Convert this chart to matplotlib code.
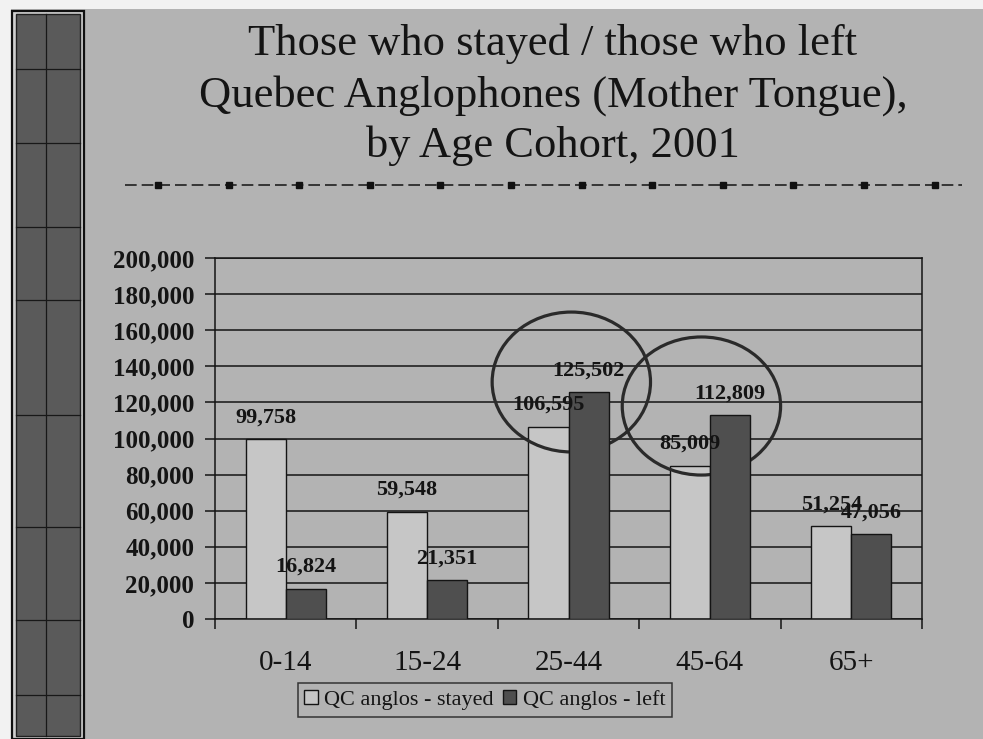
import numpy as np
import matplotlib
matplotlib.use('Agg')
import matplotlib.pyplot as plt
from matplotlib.patches import Rectangle, Ellipse, Patch
from matplotlib.lines import Line2D
from matplotlib.ticker import FuncFormatter, FixedLocator

# data
cohorts = ['0-14', '15-24', '25-44', '45-64', '65+']
stayed = [99758, 59548, 106595, 85009, 51254]
left = [16824, 21351, 125502, 112809, 47056]
series_names = ['QC anglos - stayed', 'QC anglos - left']
title_lines = ['Those who stayed / those who left',
               'Quebec Anglophones (Mother Tongue),',
               'by Age Cohort, 2001']

plt.rcParams['font.family'] = ['Liberation Serif', 'DejaVu Serif']

bg = '#b3b3b3'
light = '#c6c6c6'
dark = '#4f4f4f'
ink = '#141414'

W, H = 983, 739
fig = plt.figure(figsize=(W / 100, H / 100), dpi=100, facecolor=bg)

def fx(px):
    return px / W

def fy(py):
    return 1 - py / H

# white scan margins
fig.patches.append(Rectangle((0, fy(9)), 1, 9 / H, transform=fig.transFigure,
                             facecolor='#f2f2f2', edgecolor='none', zorder=0))
fig.patches.append(Rectangle((0, 0), fx(11), 1, transform=fig.transFigure,
                             facecolor='#f2f2f2', edgecolor='none', zorder=0))

# left decorative strip
fig.patches.append(Rectangle((fx(12), 0), fx(72), fy(11), transform=fig.transFigure,
                             facecolor='#cfcfcf', edgecolor='#101010', lw=1.6, zorder=1))
fig.patches.append(Rectangle((fx(16), fy(736)), fx(64), (736 - 14) / H,
                             transform=fig.transFigure, facecolor='#5a5a5a',
                             edgecolor='#202020', lw=1, zorder=2))
fig.lines.append(Line2D([fx(46), fx(46)], [fy(736), fy(14)], transform=fig.transFigure,
                        color='#181818', lw=0.9, zorder=3))
for yy in [69, 143, 227, 300, 415, 527, 620, 695]:
    fig.lines.append(Line2D([fx(16), fx(80)], [fy(yy), fy(yy)], transform=fig.transFigure,
                            color='#181818', lw=0.9, zorder=3))

# title
for line, base in zip(title_lines, [55, 107, 157]):
    fig.text(fx(553), fy(base), line, ha='center', va='baseline',
             fontsize=32, color=ink)

# dashed rule with square markers
fig.lines.append(Line2D([fx(125), fx(962)], [fy(185), fy(185)], transform=fig.transFigure,
                        color='#202020', lw=1.2, ls=(0, (7, 3))))
mx = [fx(158 + 70.6 * k) for k in range(12)]
fig.lines.append(Line2D(mx, [fy(185)] * len(mx), transform=fig.transFigure,
                        color='#101010', lw=0, marker='s', markersize=5))

# chart
ax = fig.add_axes([fx(215), fy(619), fx(922) - fx(215), (619 - 258) / H])
ax.set_facecolor('none')

x = np.arange(len(cohorts))
bw = 0.283
b1 = ax.bar(x - bw / 2, stayed, bw, color=light, edgecolor=ink, lw=1, zorder=2)
b2 = ax.bar(x + bw / 2, left, bw, color=dark, edgecolor=ink, lw=1, zorder=3)

for bars, vals in [(b1, stayed), (b2, left)]:
    for r, v in zip(bars, vals):
        ax.annotate(f'{v:,}', (r.get_x() + r.get_width() / 2, v),
                    xytext=(0, 12), textcoords='offset points',
                    ha='center', va='baseline', fontsize=16, fontweight='bold',
                    color=ink, zorder=5)

ax.set_xlim(-0.5, len(cohorts) - 0.5)
ax.set_ylim(0, 200000)
ax.set_yticks(np.arange(0, 200001, 20000))
ax.yaxis.set_major_formatter(FuncFormatter(lambda v, p: f'{int(v):,}'))
ax.tick_params(axis='y', length=7, width=1.1, direction='out', pad=8,
               labelsize=18, colors=ink)
for t in ax.get_yticklabels():
    t.set_fontweight('bold')

ax.set_xticks(x)
ax.set_xticklabels(cohorts)
ax.xaxis.set_minor_locator(FixedLocator(np.arange(-0.5, len(cohorts), 1)))
ax.tick_params(axis='x', which='major', length=0, pad=22, labelsize=21, colors=ink)
ax.tick_params(axis='x', which='minor', length=7, width=1.1, direction='out', colors=ink)

ax.yaxis.grid(True, color=ink, lw=1.1)
ax.set_axisbelow(True)
for s in ax.spines.values():
    s.set_color(ink)
    s.set_linewidth(1.1)

# highlight circles (drawn over the light bars, under the dark ones)
for cx, cy, w, h in [(2.02, 131300, 1.12, 77500), (2.94, 118000, 1.12, 76500)]:
    ax.add_patch(Ellipse((cx, cy), w, h, fill=False, edgecolor='#2a2a2a',
                         lw=2.3, zorder=2.5, clip_on=False))

handles = [Patch(facecolor=light, edgecolor=ink, lw=1),
           Patch(facecolor=dark, edgecolor=ink, lw=1)]
leg = fig.legend(handles, series_names, loc='center', ncol=2,
                 bbox_to_anchor=(fx(485), fy(700)), fontsize=16,
                 handlelength=0.6, handleheight=0.6, handletextpad=0.3,
                 columnspacing=0.4, borderpad=0.3, fancybox=False,
                 frameon=True, edgecolor=ink)
leg.get_frame().set_facecolor('none')
leg.get_frame().set_linewidth(1.1)
for t in leg.get_texts():
    t.set_color(ink)

fig.savefig('out.png', dpi=100, facecolor=bg)
